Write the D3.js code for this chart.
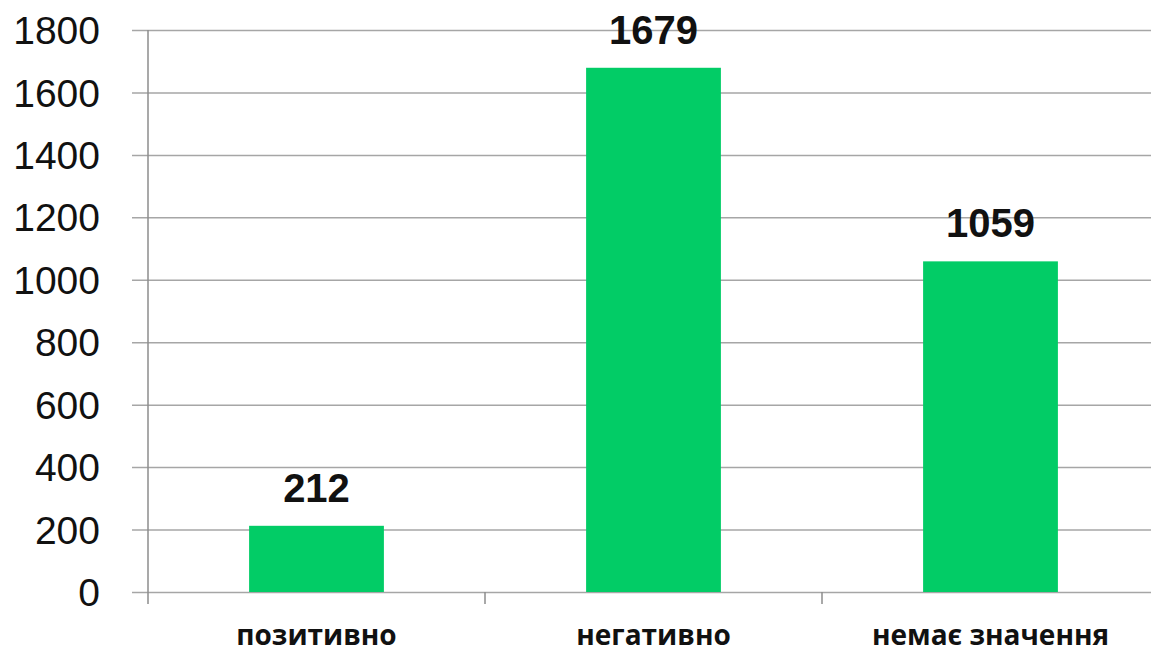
<!DOCTYPE html>
<html>
<head>
<meta charset="utf-8">
<script src="https://cdn.jsdelivr.net/npm/d3@7"></script>
<style>
  body { margin: 0; background: #fff; }
  svg { display: block; }
</style>
</head>
<body>
<svg id="chart" width="1151" height="653"></svg>
<script>
// chart data
var categories = ["позитивно", "негативно", "немає значення"];
var values = [212, 1679, 1059];
var yTicks = [0, 200, 400, 600, 800, 1000, 1200, 1400, 1600, 1800];

var svg = d3.select("#chart");

// plot box (don't call it "top", clashes with window.top)
var pLeft = 148, pRight = 1159, pTop = 30, pBottom = 592;

var x = d3.scaleBand()
        .domain(categories)
        .range([pLeft, pRight])
        .paddingInner(0.6)
        .paddingOuter(0.3);

var y = d3.scaleLinear()
        .domain([0, 1800])
        .range([pBottom, pTop]);

// gridlines + y ticks
var yAxis = d3.axisLeft(y)
        .tickValues(yTicks)
        .tickFormat(d3.format("d"))
        .tickSize(-(pRight - pLeft))
        .tickSizeOuter(0)
        .tickPadding(0);

var gy = svg.append("g")
        .attr("transform", "translate(" + pLeft + ",0)")
        .call(yAxis);
gy.select(".domain").remove();
gy.selectAll(".tick line")
        .attr("stroke", "#a6a6a6")
        .attr("stroke-width", 1.5)
        .attr("x1", -16);
gy.selectAll(".tick text")
        .attr("x", -48)
        .attr("dy", "0.35em")
        .attr("fill", "#111")
        .style("font-family", "'Liberation Sans', Arial, sans-serif")
        .style("font-size", "39px");

// vertical axis line
svg.append("line")
        .attr("x1", pLeft).attr("x2", pLeft)
        .attr("y1", pTop).attr("y2", pBottom + 12)
        .attr("stroke", "#8c8c8c")
        .attr("stroke-width", 1.5);

// category ticks between bands
var step = x.step();
svg.selectAll(".sep")
        .data(categories.slice(1))
        .enter()
        .append("line")
        .attr("x1", (d) => x(d) - (step - x.bandwidth()) / 2)
        .attr("x2", (d) => x(d) - (step - x.bandwidth()) / 2)
        .attr("y1", pBottom)
        .attr("y2", pBottom + 12)
        .attr("stroke", "#8c8c8c")
        .attr("stroke-width", 1.5);

// bars
var g = svg.selectAll(".bar")
        .data(categories)
        .enter()
        .append("g");

g.append("rect")
        .attr("x", (d) => x(d))
        .attr("y", (d, i) => y(values[i]))
        .attr("width", x.bandwidth())
        .attr("height", (d, i) => pBottom - y(values[i]))
        .attr("fill", "#02cc66");

g.append("text")
        .attr("x", (d) => x(d) + x.bandwidth() / 2)
        .attr("y", (d, i) => y(values[i]) - 24)
        .attr("text-anchor", "middle")
        .attr("fill", "#111")
        .style("font-family", "'Liberation Sans', Arial, sans-serif")
        .style("font-weight", "bold")
        .style("font-size", "40px")
        .text((d, i) => values[i]);

// category labels
g.append("text")
        .attr("x", (d) => x(d) + x.bandwidth() / 2)
        .attr("y", 645)
        .attr("text-anchor", "middle")
        .attr("fill", "#111")
        .style("font-family", "'Open Sans', sans-serif")
        .style("font-weight", "bold")
        .style("font-size", "28px")
        .text((d) => d);
</script>
</body>
</html>
